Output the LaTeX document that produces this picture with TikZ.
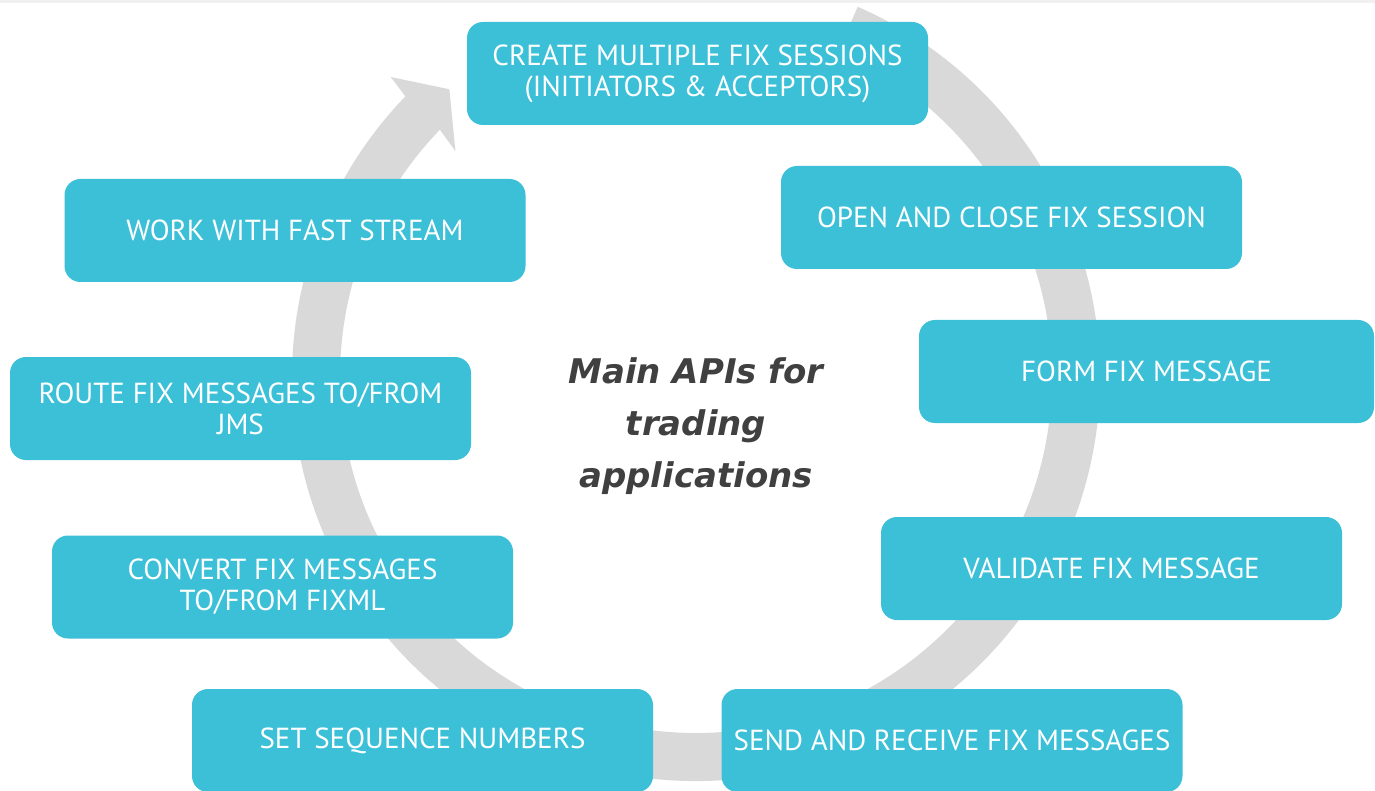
\documentclass[tikz,border=0pt]{standalone}
\usepackage{fontspec}
\setmainfont{PT Sans}
\newfontfamily\titlefont{DejaVu Sans}
\definecolor{boxcyan}{RGB}{59,192,216}
\definecolor{ringgray}{RGB}{217,217,217}
\definecolor{titlegray}{RGB}{64,64,64}
\begin{document}
\begin{tikzpicture}[x=1pt, y=1pt,
    apibox/.style={fill=boxcyan, rounded corners=16pt, minimum width=461pt,
      minimum height=103pt, inner sep=0pt, text=white, align=center,
      font=\fontsize{29}{31}\selectfont}]
    \useasboundingbox (0,0) rectangle (1375,-791);
    \clip (0,0) rectangle (1375,-791);
    \fill[white] (0,0) rectangle (1375,-791);
    \fill[black!6] (0,0) rectangle (1375,-3);
    % Ring
    \fill[ringgray, shift={(696,-377)}]
      (66.4:404) arc[start angle=66.4, end angle=-224, radius=404]
      -- (135.5:428) -- (130.6:379) -- (136.8:330) -- (136:356)
      arc[start angle=-224, end angle=66.4, radius=356] -- cycle;
    % Nodes
    \node[apibox] (create) at (697.5,-73.5) {CREATE MULTIPLE FIX SESSIONS\\(INITIATORS \& ACCEPTORS)};
    \node[apibox] (openclose) at (1011.5,-217.5) {OPEN AND CLOSE FIX SESSION};
    \node[apibox, minimum width=455pt] (form) at (1146.5,-371.5) {FORM FIX MESSAGE};
    \node[apibox] (validate) at (1111.5,-568.5) {VALIDATE FIX MESSAGE};
    \node[apibox] (sendrecv) at (952,-740.5) {SEND AND RECEIVE FIX MESSAGES};
    \node[apibox] (seqnum) at (422.5,-740.5) {SET SEQUENCE NUMBERS};
    \node[apibox] (fixml) at (282.5,-587) {CONVERT FIX MESSAGES\\TO/FROM FIXML};
    \node[apibox] (jms) at (240.5,-408.5) {ROUTE FIX MESSAGES TO/FROM\\JMS};
    \node[apibox] (fast) at (295,-230.5) {WORK WITH FAST STREAM};
    % Title
    \node[text=titlegray, align=center, font=\titlefont\fontsize{34}{52}\selectfont\bfseries\itshape]
      (title) at (696,-426) {Main APIs for\\trading\\applications};
\end{tikzpicture}
\end{document}
